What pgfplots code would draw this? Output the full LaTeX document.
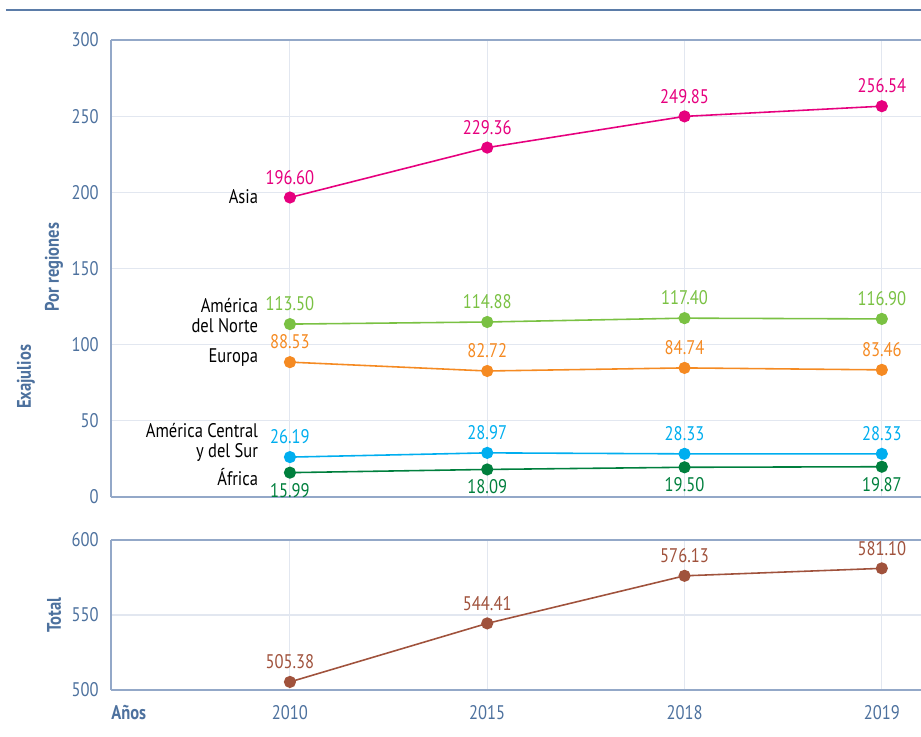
\documentclass[border=0pt]{standalone}
\usepackage{fontspec}
\setmainfont{PT Sans}[FakeStretch=0.84]
\usepackage{pgfplots}
\pgfplotsset{compat=1.18}

\definecolor{axline}{HTML}{93A8C8}
\definecolor{topline}{HTML}{5B7CA8}
\definecolor{txblue}{HTML}{4D719E}
\definecolor{gridc}{HTML}{E2E7F0}
\definecolor{casia}{HTML}{E6007E}
\definecolor{cnorte}{HTML}{7AC143}
\definecolor{ceuropa}{HTML}{F58A22}
\definecolor{ccentral}{HTML}{00AEEF}
\definecolor{cafrica}{HTML}{007F3D}
\definecolor{ctotal}{HTML}{A0523C}

\newcommand{\fs}{\fontsize{11.2}{11.6}\selectfont}

\pgfplotsset{
  panel/.style={
    scale only axis, anchor=south west, width=16.6cm,
    xmin=-0.907, xmax=3.3, xtick={0,1,2,3},
    axis x line=box, axis y line=left,
    axis line style={axline, line width=1.1pt, -},
    grid=major, grid style={gridc, line width=0.6pt},
    major tick length=0pt,
    tick label style={font=\fs, text=txblue},
    yticklabel style={inner sep=0pt, xshift=-0.24cm},
    xticklabel style={inner sep=0pt, yshift=-0.3cm},
    /pgf/number format/assume math mode=true,
    clip=false,
  },
  serie/.style={color=#1, line width=0.9pt, mark=*, mark size=3pt,
    mark options={fill=#1, draw=#1},
    point meta=explicit symbolic, nodes near coords,
    every node near coord/.append style={font=\fs, text=#1}},
  up/.style={every node near coord/.append style={anchor=south, inner sep=0pt, yshift=7pt}},
  down/.style={every node near coord/.append style={anchor=north, inner sep=0pt, yshift=-5.5pt}},
}

\begin{document}
\begin{tikzpicture}
\useasboundingbox (0,0) rectangle (18.42,14.72);
\clip (0,0) rectangle (18.42,14.72);
\draw[topline, line width=1.2pt] (0.12,14.52) -- (18.5,14.52);

% regiones
\begin{axis}[panel, at={(2.22cm,4.78cm)}, height=9.14cm,
  ymin=0, ymax=300, ytick={0,50,...,300}, xticklabels={}]
\addplot[serie=casia, up] coordinates {(0,196.60)[196.60] (1,229.36)[229.36] (2,249.85)[249.85] (3,256.54)[256.54]};
\addplot[serie=cnorte, up] coordinates {(0,113.50)[113.50] (1,114.88)[114.88] (2,117.40)[117.40] (3,116.90)[116.90]};
\addplot[serie=ceuropa, up] coordinates {(0,88.53)[88.53] (1,82.72)[82.72] (2,84.74)[84.74] (3,83.46)[83.46]};
\addplot[serie=ccentral, up] coordinates {(0,26.19)[26.19] (1,28.97)[28.97] (2,28.33)[28.33] (3,28.33)[28.33]};
\addplot[serie=cafrica, down] coordinates {(0,15.99)[15.99] (1,18.09)[18.09] (2,19.50)[19.50] (3,19.87)[19.87]};
\begin{scope}[font=\fs]
\node[anchor=east, align=right, inner sep=0pt] at (axis cs:-0.16,197) {Asia};
\node[anchor=east, align=right, inner sep=0pt] at (axis cs:-0.16,119) {América\\del Norte};
\node[anchor=east, align=right, inner sep=0pt] at (axis cs:-0.16,91.5) {Europa};
\node[anchor=east, align=right, inner sep=0pt] at (axis cs:-0.16,36) {América Central\\y del Sur};
\node[anchor=east, align=right, inner sep=0pt] at (axis cs:-0.16,13) {África};
\end{scope}
\end{axis}

% total
\begin{axis}[panel, at={(2.22cm,0.92cm)}, height=3.0cm,
  ymin=500, ymax=600, ytick={500,550,600}, xticklabels={2010,2015,2018,2019}]
\addplot[serie=ctotal, up] coordinates {(0,505.38)[505.38] (1,544.41)[544.41] (2,576.13)[576.13] (3,581.10)[581.10]};
\end{axis}

\begin{scope}[font=\bfseries\fs, text=txblue]
\node[rotate=90] at (0.52,7.18) {Exajulios};
\node[rotate=90] at (1.08,9.38) {Por regiones};
\node[rotate=90] at (1.08,2.42) {Total};
\node[anchor=west, inner sep=0pt] at (2.22,0.46) {Años};
\end{scope}
\end{tikzpicture}
\end{document}
